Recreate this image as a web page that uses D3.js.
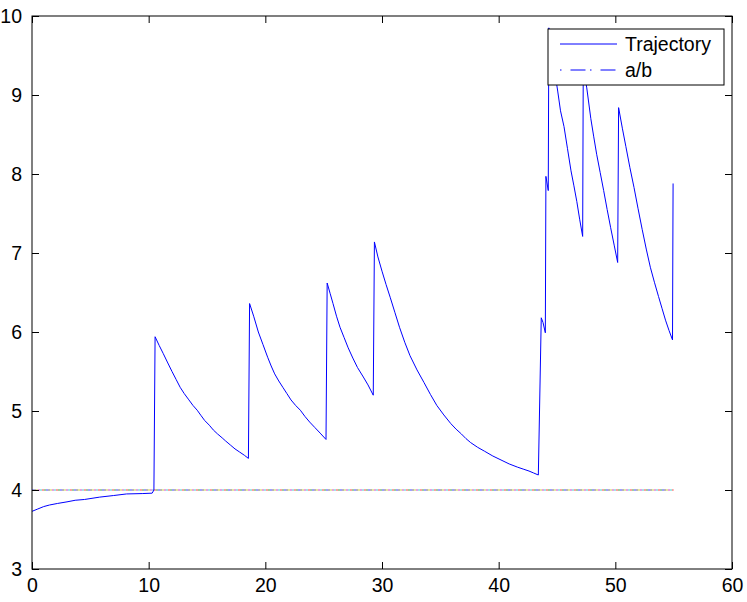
<!DOCTYPE html>
<html><head><meta charset="utf-8">
<script src="https://cdn.jsdelivr.net/npm/d3@7"></script>
<style>body{margin:0;background:#fff}svg{display:block}text{font-family:"Liberation Sans",Arial,Helvetica,sans-serif}</style>
</head><body><svg id="c" width="747" height="602"></svg>
<script>
// Data
const xTicks = [0, 10, 20, 30, 40, 50, 60];
const yTicks = [3, 4, 5, 6, 7, 8, 9, 10];
const trajX = [0,0.5,1.0,1.5,2.2,3,3.7,4.5,5.8,7,8.1,9.5,10.3,10.45,
  10.55,10.9,11.24,11.6,12.0,12.35,12.7,13.05,13.4,13.8,14.16,14.5,14.8,15.2,15.54,15.9,16.3,16.6,17.0,17.4,17.8,18.2,18.55,
  18.65,19.0,19.4,19.8,20.2,20.5,20.8,21.15,21.5,21.85,22.2,22.6,23.0,23.4,23.8,24.25,24.7,25.2,
  25.3,25.55,25.8,26.1,26.4,26.75,27.1,27.5,27.9,28.4,28.8,29.25,
  29.35,29.65,30.0,30.35,30.7,31.1,31.5,31.95,32.4,33.0,33.6,34.15,34.7,35.3,35.9,36.35,36.8,37.2,37.6,38.2,38.8,39.5,40.2,40.9,41.6,42.1,42.6,43.0,43.4,
  43.65,43.8,44.0,44.05,44.25,
  44.3,44.65,45.06,45.3,45.6,45.9,46.2,46.45,46.7,46.95,47.2,
  47.25,47.55,47.9,48.15,48.4,48.7,49.0,49.3,49.6,49.9,50.2,
  50.28,50.6,50.9,51.25,51.6,51.95,52.3,52.65,53.0,53.35,53.7,54.0,54.3,54.6,54.9,54.95];
const trajY = [3.73,3.76,3.79,3.81,3.83,3.85,3.87,3.88,3.91,3.93,3.95,3.955,3.96,4.0,
  5.94,5.83,5.73,5.62,5.50,5.40,5.30,5.22,5.15,5.07,5.01,4.94,4.88,4.82,4.76,4.71,4.66,4.62,4.57,4.52,4.48,4.44,4.40,
  6.36,6.20,6.00,5.84,5.68,5.57,5.47,5.38,5.30,5.22,5.14,5.07,5.01,4.93,4.86,4.79,4.72,4.64,
  6.62,6.49,6.36,6.20,6.06,5.93,5.80,5.67,5.55,5.43,5.33,5.20,
  7.14,6.95,6.77,6.60,6.44,6.25,6.06,5.87,5.70,5.52,5.36,5.21,5.07,4.95,4.84,4.77,4.71,4.65,4.60,4.54,4.49,4.43,4.38,4.33,4.29,4.265,4.24,4.215,4.19,
  6.18,6.12,5.99,7.97,7.79,
  9.85,9.45,9.05,8.80,8.60,8.32,8.04,7.85,7.65,7.42,7.21,
  9.35,9.09,8.70,8.47,8.25,8.02,7.79,7.55,7.32,7.10,6.88,
  8.84,8.58,8.35,8.08,7.83,7.56,7.30,7.05,6.82,6.63,6.45,6.30,6.15,6.02,5.90,7.88];
const abX = [0, 55];
const abY = [4, 4];
const abColors = ["#0000ff","#008000","#ff0000","#00bfbf","#bf00bf","#bfbf00","#404040"];
const legendLabels = ["Trajectory", "a/b"];

const L = 32, R = 732, T = 16, B = 569;
const svg = d3.select("#c");
const x = d3.scaleLinear().domain([0, 60]).range([L, R]);
const y = d3.scaleLinear().domain([3, 10]).range([B, T]);
const fs = "19.5px";

// a/b lines: several overlaid dotted lines giving a mottled look
const abLine = d3.line().x((d,i)=>x(abX[i])).y((d,i)=>y(abY[i]));
abColors.forEach((c,i)=>{
  svg.append("path").datum(abX).attr("d", abLine).attr("fill","none")
    .attr("stroke", c).attr("stroke-width", 1)
    .attr("stroke-dasharray", "2,12").attr("stroke-dashoffset", i*2)
    .attr("opacity", 0.75);
});

// trajectory
const tLine = d3.line().x((d,i)=>x(trajX[i])).y((d,i)=>y(trajY[i]));
svg.append("path").datum(trajX).attr("d", tLine).attr("fill","none")
  .attr("stroke","#0000ff").attr("stroke-width",1);

// axes box
svg.append("rect").attr("x",L).attr("y",T).attr("width",R-L).attr("height",B-T)
  .attr("fill","none").attr("stroke","#000").attr("stroke-width",1);

const tl = 7;
const ax = svg.append("g").attr("transform",`translate(0,${B})`)
  .call(d3.axisBottom(x).tickValues(xTicks).tickSize(-tl).tickPadding(9).tickFormat(d3.format("d")));
const axT = svg.append("g").attr("transform",`translate(0,${T})`)
  .call(d3.axisTop(x).tickValues(xTicks).tickSize(-tl).tickFormat(""));
const ay = svg.append("g").attr("transform",`translate(${L},0)`)
  .call(d3.axisLeft(y).tickValues(yTicks).tickSize(-tl).tickPadding(10).tickFormat(d3.format("d")));
const ayR = svg.append("g").attr("transform",`translate(${R},0)`)
  .call(d3.axisRight(y).tickValues(yTicks).tickSize(-tl).tickFormat(""));
[ax,axT,ay,ayR].forEach(a=>{
  a.select(".domain").remove();
  a.selectAll(".tick line").attr("stroke","#000");
  a.selectAll("text").attr("font-size",fs).attr("fill","#000")
    .attr("font-family",'"Liberation Sans",Arial,sans-serif');
});

// legend
const lg = svg.append("g");
lg.append("rect").attr("x",548).attr("y",29).attr("width",176).attr("height",56)
  .attr("fill","#fff").attr("stroke","#000").attr("stroke-width",1);
lg.append("line").attr("x1",560).attr("x2",617).attr("y1",44).attr("y2",44)
  .attr("stroke","#0000ff").attr("stroke-width",1);
lg.append("line").attr("x1",560).attr("x2",617).attr("y1",70).attr("y2",70)
  .attr("stroke","#0000ff").attr("stroke-width",1).attr("stroke-dasharray","1.5,9,15,4.5");
legendLabels.forEach((t,i)=>{
  lg.append("text").attr("x",625).attr("y",[51,77][i]).attr("font-size",fs).text(t);
});
</script></body></html>
